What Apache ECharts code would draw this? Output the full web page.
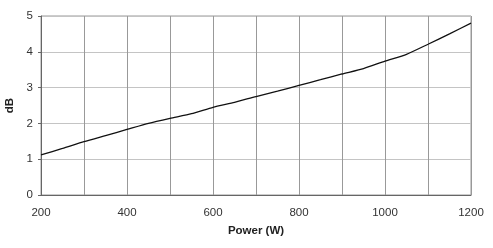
<!DOCTYPE html>
<html><head><meta charset="utf-8">
<script src="https://cdn.jsdelivr.net/npm/echarts@6/dist/echarts.min.js"></script>
<style>html,body{margin:0;padding:0;background:#fff}#c{width:493px;height:248px}</style>
</head><body><div id="c"></div>
<script>
const power = [200, 250, 300, 350, 400, 450, 500, 550, 600, 650, 700, 750, 800, 850, 900, 950, 1000, 1050, 1100, 1150, 1200];
const dB = [1.12, 1.30, 1.49, 1.66, 1.83, 2.00, 2.14, 2.27, 2.45, 2.59, 2.75, 2.90, 3.06, 3.22, 3.38, 3.53, 3.74, 3.93, 4.21, 4.50, 4.80];
const xLabels = [200, 400, 600, 800, 1000, 1200];
const yTicks = [0, 1, 2, 3, 4, 5];

const chart = echarts.init(document.getElementById('c'));
const font = 'Liberation Sans, Arial, sans-serif';
chart.setOption({
  animation: false,
  grid: { left: 41, right: 22, top: 16, bottom: 53, containLabel: false, outerBoundsMode: 'none',
    show: true, borderColor: '#999', borderWidth: 1 },
  xAxis: {
    type: 'value', min: 200, max: 1200, interval: 100,
    name: 'Power (W)', nameLocation: 'middle', nameGap: 30,
    nameTextStyle: { fontFamily: font, fontWeight: 'bold', fontSize: 11.5, color: '#222' },
    axisLine: { lineStyle: { color: '#666' } },
    axisTick: { show: false },
    axisLabel: { fontFamily: font, fontSize: 11.5, color: '#333', margin: 12,
      formatter: v => xLabels.includes(v) ? String(v) : '' },
    splitLine: { show: true, lineStyle: { color: '#999', width: 1 } }
  },
  yAxis: {
    type: 'value', min: yTicks[0], max: yTicks[yTicks.length - 1], interval: 1,
    name: 'dB', nameLocation: 'middle', nameGap: 21, nameRotate: 90,
    nameTextStyle: { fontFamily: font, fontWeight: 'bold', fontSize: 11.5, color: '#222' },
    axisLine: { show: true, lineStyle: { color: '#666' } },
    axisTick: { show: true, length: 3, lineStyle: { color: '#666' } },
    axisLabel: { fontFamily: font, fontSize: 11.5, color: '#333', margin: 8 },
    splitLine: { show: true, lineStyle: { color: '#c4c4c4', width: 1 } }
  },
  series: [{
    type: 'line', data: power.map((p, i) => [p, dB[i]]),
    showSymbol: false, smooth: 0.2,
    lineStyle: { color: '#111', width: 1.3 }
  }]
});
</script></body></html>
